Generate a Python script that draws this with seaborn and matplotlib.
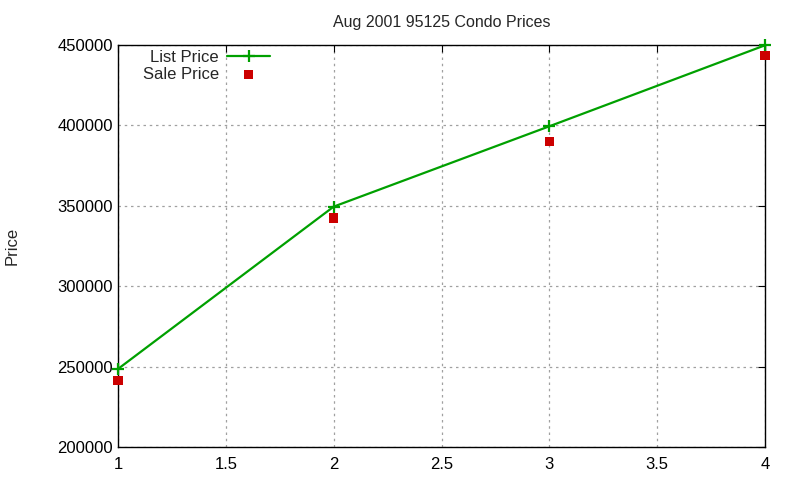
import pandas as pd
import matplotlib
matplotlib.use("Agg")
import matplotlib.pyplot as plt
import seaborn as sns

x_vals = [1, 2, 3, 4]
list_price = [248500, 349500, 399500, 449900]
sale_price = [241500, 342500, 390000, 443500]

df = pd.DataFrame({"x": x_vals, "List Price": list_price, "Sale Price": sale_price})

sns.set_style("white")
plt.rcParams["font.family"] = ["Liberation Sans", "DejaVu Sans"]

fig = plt.figure(figsize=(8, 4.8), dpi=100)
ax = fig.add_axes([0.1475, 0.069, 0.8088, 0.837])

sns.lineplot(data=df, x="x", y="List Price", ax=ax, color="#00a000", linewidth=1.6,
             marker="+", markersize=9, markeredgewidth=1.6, markeredgecolor="#00a000",
             label="List Price", clip_on=False, zorder=4)
sns.scatterplot(data=df, x="x", y="Sale Price", ax=ax, color="#cc0000", marker="s",
                s=45, edgecolor="none", label="Sale Price", clip_on=False, zorder=5)

ax.set_xlim(1, 4)
ax.set_ylim(200000, 450000)
ax.set_xticks([1, 1.5, 2, 2.5, 3, 3.5, 4])
ax.set_xticklabels(["1", "1.5", "2", "2.5", "3", "3.5", "4"])
ax.set_yticks(range(200000, 450001, 50000))
ax.grid(True, color="#a0a0a0", linestyle=(0, (2, 3)), linewidth=0.9)
for s in ax.spines.values():
    s.set_color("black")
    s.set_linewidth(1)
ax.tick_params(direction="in", top=True, right=True, length=5, labelsize=12, colors="black")
ax.tick_params(axis="x", pad=7)

ax.set_xlabel("")
ax.set_ylabel("Price", fontsize=12)
ax.yaxis.set_label_coords(-0.152, 0.5)
ax.set_title("Aug 2001 95125 Condo Prices", fontsize=11.5, pad=13)

ax.legend(loc="upper left", markerfirst=False, frameon=False, fontsize=12,
          bbox_to_anchor=(0.02, 1.018), handlelength=2.6, labelspacing=0.12,
          handletextpad=0.5, borderaxespad=0.3)

fig.savefig("out.png", dpi=100)
